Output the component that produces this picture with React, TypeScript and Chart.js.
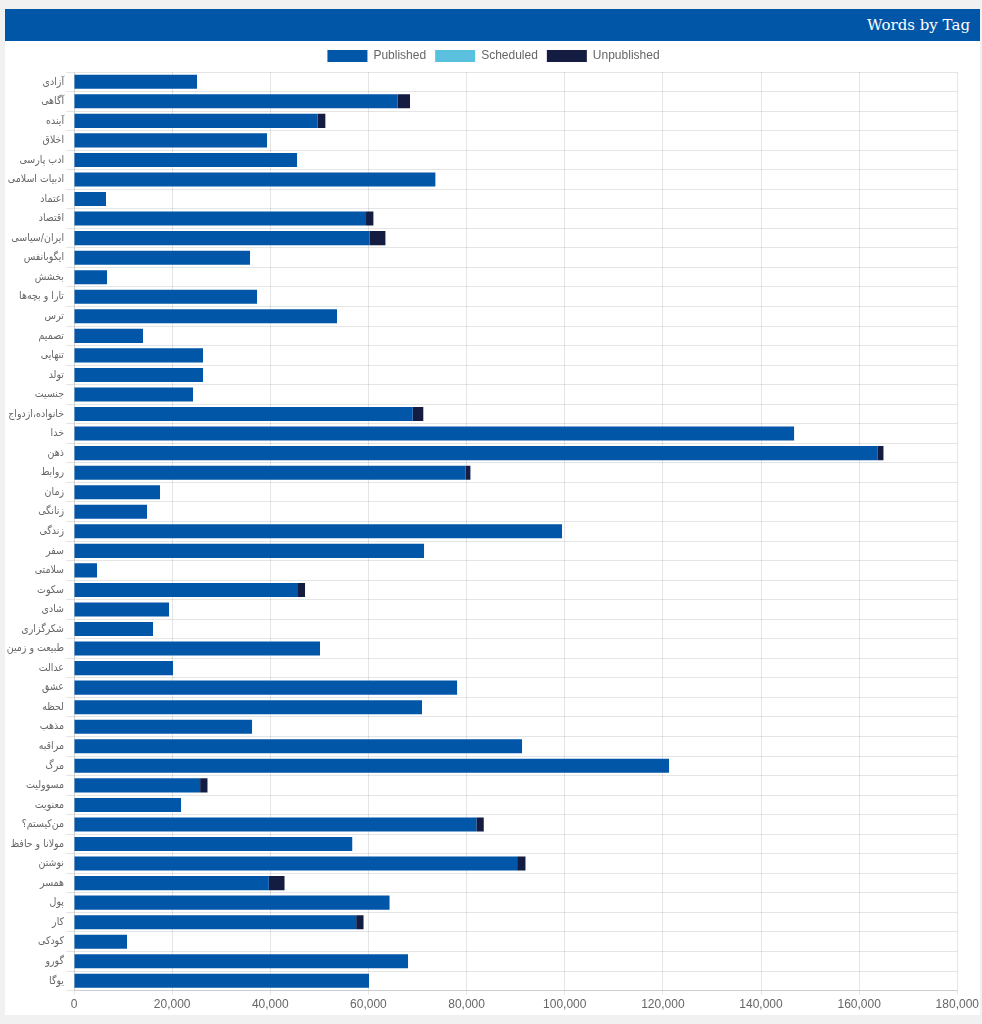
import React, { useEffect, useRef } from "react";
import { Chart, registerables } from "chart.js";

Chart.register(...registerables);

const tags: string[] = [
  "آزادی", "آگاهی", "آینده", "اخلاق", "ادب پارسی", "ادبیات اسلامی", "اعتماد", "اقتصاد",
  "ایران/سیاسی", "ایگوبانفس", "بخشش", "تارا و بچه‌ها", "ترس", "تصمیم", "تنهایی", "تولد",
  "جنسیت", "خانواده،ازدواج", "خدا", "ذهن", "روابط", "زمان", "زنانگی", "زندگی", "سفر",
  "سلامتی", "سکوت", "شادی", "شکرگزاری", "طبیعت و زمین", "عدالت", "عشق", "لحظه", "مذهب",
  "مراقبه", "مرگ", "مسوولیت", "معنویت", "من‌کیستم؟", "مولانا و حافظ", "نوشتن", "همسر",
  "پول", "کار", "کودکی", "گورو", "یوگا",
];

const published: number[] = [
  25070, 65970, 49660, 39330, 45450, 73640, 6520, 59510,
  60260, 35870, 6730, 37300, 53600, 14060, 26290, 26290,
  24250, 69030, 146740, 163800, 79830, 17530, 14880, 99450, 71330,
  4690, 45650, 19360, 16100, 50130, 20180, 78060, 70920, 36280,
  91300, 121260, 25700, 21810, 82000, 56700, 90300, 39700,
  64300, 57500, 10800, 68070, 60120,
];

const scheduled: number[] = [
  0, 0, 0, 0, 0, 0, 0, 0,
  0, 0, 0, 0, 0, 0, 0, 0,
  0, 0, 0, 0, 0, 0, 0, 0, 0,
  0, 0, 0, 0, 0, 0, 0, 0, 0,
  0, 0, 0, 0, 0, 0, 0, 0,
  0, 0, 0, 0, 0,
];

const unpublished: number[] = [
  0, 2500, 1560, 0, 0, 0, 0, 1500,
  3200, 0, 0, 0, 0, 0, 0, 0,
  0, 2150, 0, 1150, 950, 0, 0, 0, 0,
  0, 1430, 0, 0, 0, 0, 0, 0, 0,
  0, 0, 1500, 0, 1500, 0, 1700, 3200,
  0, 1500, 0, 0, 0,
];

const xTicksMax = 180000;
const xTickStep = 20000;

export default function App() {
  const canvasRef = useRef<HTMLCanvasElement | null>(null);

  useEffect(() => {
    if (!canvasRef.current) return;
    const chart = new Chart(canvasRef.current, {
      type: "bar",
      data: {
        labels: tags,
        datasets: [
          { label: "Published", data: published, backgroundColor: "#0256a8" },
          { label: "Scheduled", data: scheduled, backgroundColor: "#5bc0de" },
          { label: "Unpublished", data: unpublished, backgroundColor: "#141c42" },
        ],
      },
      options: {
        indexAxis: "y",
        animation: false,
        responsive: true,
        maintainAspectRatio: false,
        layout: { padding: { right: 0 } },
        plugins: {
          legend: {
            position: "top",
            labels: { boxWidth: 40, boxHeight: 12, padding: 9, color: "#666", font: { size: 12 } },
          },
          tooltip: { enabled: false },
        },
        scales: {
          x: {
            stacked: true,
            min: 0,
            max: xTicksMax,
            ticks: { stepSize: xTickStep, color: "#666", font: { size: 12 } },
            grid: { color: "rgba(0,0,0,0.1)", tickLength: 4 },
          },
          y: {
            stacked: true,
            ticks: {
              color: "#666",
              padding: 2,
              font: { size: 10.5, family: "'DejaVu Sans Condensed', 'DejaVu Sans', sans-serif" },
              autoSkip: false,
            },
            grid: { color: "rgba(0,0,0,0.1)" },
            afterFit: (scale: any) => {
              scale.width = 69;
            },
          },
        },
      },
    });
    return () => chart.destroy();
  }, []);

  return (
    <div style={{ position: "absolute", left: 0, top: 0, width: 982, height: 1024, background: "#f1f1f1" }}>
      <div
        style={{
          position: "absolute",
          left: 5,
          top: 9,
          width: 975,
          height: 32,
          background: "#0256a8",
          color: "#fff",
          fontFamily: "'DejaVu Serif', serif",
          fontSize: 15,
          lineHeight: "32px",
          textAlign: "right",
          paddingRight: 10,
          boxSizing: "border-box",
        }}
      >
        Words by Tag
      </div>
      <div style={{ position: "absolute", left: 5, top: 41, width: 975, height: 974, background: "#fff" }} />
      <div style={{ position: "absolute", left: 5, top: 41, width: 977, height: 974 }}>
        <canvas ref={canvasRef} />
      </div>
    </div>
  );
}
